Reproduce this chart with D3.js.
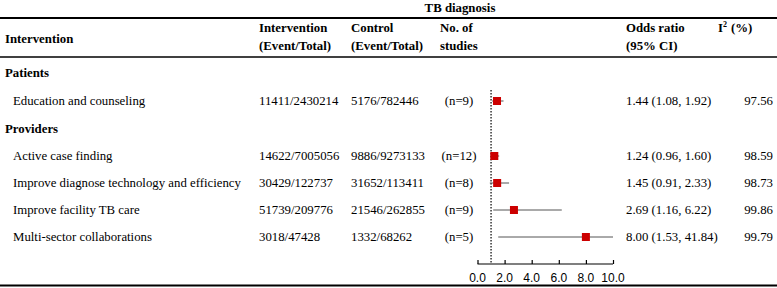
<!DOCTYPE html>
<html><head><meta charset="utf-8">
<script src="https://cdn.jsdelivr.net/npm/d3@7"></script>
<style>body{margin:0;background:#fff}svg{display:block}</style>
</head><body>
<svg id="c" width="777" height="288"></svg>
<script>
const groups = ["Patients", "Providers"];
const labels = ["Education and counseling","Active case finding","Improve diagnose technology and efficiency","Improve facility TB care","Multi-sector collaborations"];
const rowGroup = ["Patients","Providers","Providers","Providers","Providers"];
const interventionEvents = ["11411/2430214","14622/7005056","30429/122737","51739/209776","3018/47428"];
const controlEvents = ["5176/782446","9886/9273133","31652/113411","21546/262855","1332/68262"];
const nStudies = [9,12,8,9,5];
const orValues = [1.44,1.24,1.45,2.69,8.00];
const ciLow = [1.08,0.96,0.91,1.16,1.53];
const ciHigh = [1.92,1.60,2.33,6.22,41.84];
const i2 = [97.56,98.59,98.73,99.86,99.79];
const xTicks = [0,2,4,6,8,10];

const svg = d3.select("#c");
const serif = "'Liberation Serif','Times New Roman',serif";
const sans = "'Liberation Sans',Arial,sans-serif";
const FS = 12.8;

// row layout: group header rows followed by their item rows
const order = [];
groups.forEach(g => {
  order.push("G:" + g);
  labels.forEach((l,i) => { if (rowGroup[i] === g) order.push("R:" + l); });
});
const rowY = [73,101,129,156,183,210,237];
const yPos = k => rowY[order.indexOf(k)];

const x = d3.scaleLinear().domain([0,10]).range([477.5,613]);

// rules
svg.append("line").attr("x1",0).attr("x2",777).attr("y1",18).attr("y2",18).attr("stroke","#000").attr("stroke-width",2);
svg.append("line").attr("x1",0).attr("x2",777).attr("y1",57).attr("y2",57).attr("stroke","#000").attr("stroke-width",1.5);
svg.append("line").attr("x1",0).attr("x2",777).attr("y1",285.5).attr("y2",285.5).attr("stroke","#000").attr("stroke-width",2);

const txt = (s, xx, yy, opts={}) => svg.append("text").attr("x",xx).attr("y",yy)
  .attr("font-family", opts.family || serif).attr("font-size", opts.size || FS)
  .attr("font-weight", opts.bold ? "bold" : "normal")
  .attr("text-anchor", opts.anchor || "start").attr("fill","#000").text(s);

txt("TB diagnosis", 460, 11.5, {bold:true, anchor:"middle"});
txt("Intervention", 5, 43, {bold:true});
txt("Intervention", 259, 32, {bold:true});
txt("(Event/Total)", 259, 50, {bold:true});
txt("Control", 351, 32, {bold:true});
txt("(Event/Total)", 351, 50, {bold:true});
txt("No. of", 440, 32, {bold:true});
txt("studies", 440, 50, {bold:true});
txt("Odds ratio", 626, 32, {bold:true});
txt("(95% CI)", 626, 50, {bold:true});
const i2t = svg.append("text").attr("x",718).attr("y",32).attr("font-family",serif).attr("font-size",FS).attr("font-weight","bold");
i2t.append("tspan").text("I");
i2t.append("tspan").attr("font-size",8).attr("dy",-5).text("2");
i2t.append("tspan").attr("dy",5).attr("dx",4).text("(%)");

groups.forEach(g => txt(g, 5, yPos("G:"+g)+4, {bold:true}));

labels.forEach((l,i) => {
  const yy = yPos("R:"+l) + 4;
  txt(l, 13, yy);
  txt(interventionEvents[i], 259, yy);
  txt(controlEvents[i], 351, yy);
  txt("(n=" + nStudies[i] + ")", 459, yy, {anchor:"middle"});
  txt(orValues[i].toFixed(2) + " (" + ciLow[i].toFixed(2) + ", " + ciHigh[i].toFixed(2) + ")", 626, yy);
  txt(i2[i].toFixed(2), 773, yy, {anchor:"end"});
});

// reference line at OR = 1
svg.append("line").attr("x1",x(1)).attr("x2",x(1)).attr("y1",90).attr("y2",264)
  .attr("stroke","#000").attr("stroke-width",1.2).attr("stroke-dasharray","1.5,1.5");

// CI lines and squares
labels.forEach((l,i) => {
  const yy = yPos("R:"+l);
  const lo = Math.max(0, ciLow[i]), hi = Math.min(10, ciHigh[i]);
  svg.append("line").attr("x1",x(lo)).attr("x2",x(hi)).attr("y1",yy).attr("y2",yy)
    .attr("stroke","#555").attr("stroke-width",1);
  svg.append("rect").attr("x",x(orValues[i])-4).attr("y",yy-4).attr("width",8).attr("height",8)
    .attr("fill","#cc0000");
});

// axis
const ax = svg.append("g").attr("transform","translate(0,264)")
  .call(d3.axisTop(x).tickValues(xTicks).tickSize(4).tickFormat(""));
ax.select(".domain").attr("stroke","#000").attr("stroke-width",1.2).attr("d", `M${x(0)},0H${x(10)}`);
ax.selectAll(".tick line").attr("stroke","#000").attr("stroke-width",1.2);
xTicks.forEach(t => txt(t.toFixed(1), x(t), 282, {family:sans, size:12, anchor:"middle"}));
</script>
</body></html>
